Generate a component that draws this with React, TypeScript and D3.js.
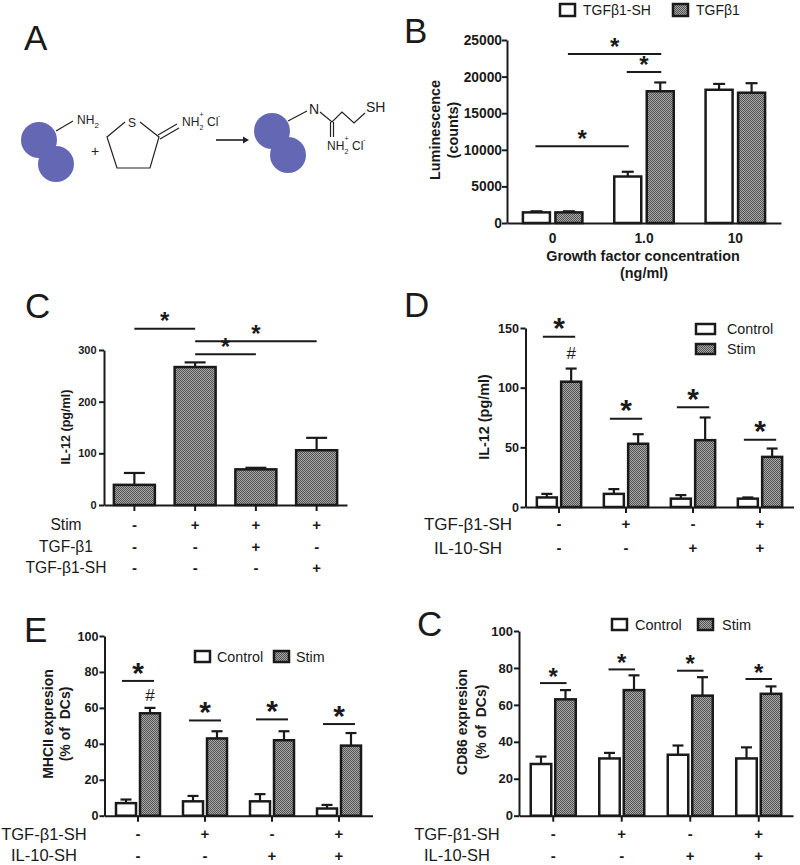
import { useEffect, useRef } from "react";
import * as d3 from "d3";

const SANS = "'Liberation Sans', Arial, sans-serif";
const BLACK = "#1a1a1a";

// Panel B
const growthGroups = ["0", "1.0", "10"];
const growthSeries = ["TGFβ1-SH", "TGFβ1"];
const growthMeans = [[1450, 6350, 18200], [1450, 18000, 17800]];
const growthTops = [[1600, 7000, 19000], [1600, 19200, 19100]];
const growthTicks = [0, 5000, 10000, 15000, 20000, 25000];
// from / to are [group, series]
const growthSig = [
  { from: [0, 1], to: [1, 1], value: 23090 },
  { from: [1, 0], to: [1, 1], value: 20630 },
  { from: [0, 0], to: [1, 0], value: 10480 },
];

// Panel C (top)
const il12Groups = ["a", "b", "c", "d"];
const il12Means = [[39, 267, 69, 106]];
const il12Tops = [[62, 276, 72, 130]];
const il12Ticks = [0, 100, 200, 300];
const il12Sig = [
  { from: [0, 0], to: [1, 0], value: 341 },
  { from: [1, 0], to: [3, 0], value: 317 },
  { from: [1, 0], to: [2, 0], value: 292 },
];
const il12Rows = [
  { label: "Stim", marks: ["-", "+", "+", "+"] },
  { label: "TGF-β1", marks: ["-", "-", "+", "-"] },
  { label: "TGF-β1-SH", marks: ["-", "-", "-", "+"] },
];

// Panels D, E, lower C share these
const stimSeries = ["Control", "Stim"];
const shRows = [
  { label: "TGF-β1-SH", marks: ["-", "+", "-", "+"] },
  { label: "IL-10-SH", marks: ["-", "-", "+", "+"] },
];

const dControl = [8, 11, 7, 7];
const dStim = [105, 53, 56, 42];
const dControlTop = [11, 15, 10, 8];
const dStimTop = [116, 61, 75, 49];
const dTicks = [0, 50, 100, 150];
const dSigLevels = [142.7, 74, 83.5, 56.4];

const eControl = [7, 8, 8, 4];
const eStim = [57, 43, 42, 39];
const eControlTop = [9, 11, 12, 6];
const eStimTop = [60, 47, 47, 46];
const eSigLevels = [75, 53, 53.6, 51];

const fControl = [28, 31, 33, 31];
const fStim = [63, 68, 65, 66];
const fControlTop = [32, 34, 38, 37];
const fStimTop = [68, 76, 75, 70];
const fSigLevels = [71.8, 79.2, 78.5, 74];

const percentTicks = [0, 20, 40, 60, 80, 100];

const pairSig = (levels: number[]) =>
  levels.map((value, i) => ({ from: [i, 0], to: [i, 1], value }));

type Panel = {
  groups: string[];
  series: string[];
  means: number[][];
  tops: number[][];
  ticks: number[];
  domainMax: number;
  xRange: [number, number];
  yRange: [number, number];
  barWidth: number;
  barStep: number;
  capWidth: number;
  fills: string[];
  tickFont: number;
  tickGap: number;
  xTickMarks: boolean;
  sig: { from: number[]; to: number[]; value: number }[];
  sigPad: number;
  starSize: number;
  starGap: number;
  hash?: { group: number; value: number };
  rows?: { label: string; marks: string[] }[];
  rowX?: number;
  rowYs?: number[];
  rowFont?: number;
};

const WHITE = "#fff";
const GREY = "url(#dots)";

const panels: Panel[] = [
  {
    groups: growthGroups, series: growthSeries, means: growthMeans, tops: growthTops, ticks: growthTicks,
    domainMax: 25000, xRange: [507, 781], yRange: [223, 40], barWidth: 27, barStep: 32.5, capWidth: 12,
    fills: [WHITE, GREY], tickFont: 13.8, tickGap: 5, xTickMarks: false, sig: growthSig, sigPad: 1, starSize: 24, starGap: 7,
  },
  {
    groups: il12Groups, series: ["IL-12"], means: il12Means, tops: il12Tops, ticks: il12Ticks,
    domainMax: 300, xRange: [104, 347], yRange: [505, 350], barWidth: 41, barStep: 41, capWidth: 21,
    fills: [GREY], tickFont: 11, tickGap: 7.5, xTickMarks: true, sig: il12Sig, sigPad: 0, starSize: 24, starGap: 7,
    rows: il12Rows, rowX: 66, rowYs: [525, 547, 568], rowFont: 15.6,
  },
  {
    groups: il12Groups, series: stimSeries, means: [dControl, dStim], tops: [dControlTop, dStimTop], ticks: dTicks,
    domainMax: 150, xRange: [525.5, 793.5], yRange: [507, 328], barWidth: 20, barStep: 24.3, capWidth: 11,
    fills: [WHITE, GREY], tickFont: 12.6, tickGap: 6.5, xTickMarks: true, sig: pairSig(dSigLevels), sigPad: 4, starSize: 30, starGap: 8,
    hash: { group: 0, value: 124 }, rows: shRows, rowX: 468, rowYs: [524, 548], rowFont: 17,
  },
  {
    groups: il12Groups, series: stimSeries, means: [eControl, eStim], tops: [eControlTop, eStimTop], ticks: percentTicks,
    domainMax: 100, xRange: [104.5, 372.5], yRange: [815.7, 636], barWidth: 20, barStep: 24, capWidth: 11,
    fills: [WHITE, GREY], tickFont: 12.6, tickGap: 6, xTickMarks: true, sig: pairSig(eSigLevels), sigPad: 4, starSize: 30, starGap: 8,
    hash: { group: 0, value: 64 }, rows: shRows, rowX: 44, rowYs: [834, 855.5], rowFont: 16.5,
  },
  {
    groups: il12Groups, series: stimSeries, means: [fControl, fStim], tops: [fControlTop, fStimTop], ticks: percentTicks,
    domainMax: 100, xRange: [519, 793], yRange: [815.7, 631], barWidth: 20.5, barStep: 24.5, capWidth: 11,
    fills: [WHITE, GREY], tickFont: 13, tickGap: 6, xTickMarks: true, sig: pairSig(fSigLevels), sigPad: 1, starSize: 24, starGap: 6,
    rows: shRows, rowX: 457, rowYs: [834, 855.5], rowFont: 16.5,
  },
];

const panelLetters = [
  { text: "A", x: 24, y: 50 },
  { text: "B", x: 404, y: 43 },
  { text: "C", x: 25, y: 318 },
  { text: "D", x: 404, y: 317 },
  { text: "E", x: 24, y: 642 },
  { text: "C", x: 417, y: 636 },
];

const rotatedTitles = [
  { text: "Luminescence", x: 435, y: 130, size: 14.4 },
  { text: "(counts)", x: 453, y: 130, size: 14.4 },
  { text: "IL-12 (pg/ml)", x: 66, y: 427, size: 12.6 },
  { text: "IL-12 (pg/ml)", x: 484, y: 417, size: 14.4 },
  { text: "MHCII expresion", x: 48, y: 724, size: 14 },
  { text: "(% of  DCs)", x: 65, y: 724, size: 14 },
  { text: "CD86 expresion", x: 462, y: 722, size: 14 },
  { text: "(% of  DCs)", x: 481, y: 722, size: 14 },
];

const legends = [
  { name: "TGFβ1-SH", fill: WHITE, x: 560, y: 4, w: 15, h: 12, textX: 583, size: 14 },
  { name: "TGFβ1", fill: GREY, x: 673, y: 4, w: 15, h: 12, textX: 696, size: 14 },
  { name: "Control", fill: WHITE, x: 696, y: 324, w: 19, h: 10, textX: 727, size: 14.3 },
  { name: "Stim", fill: GREY, x: 696, y: 344, w: 19, h: 10, textX: 727, size: 14.3 },
  { name: "Control", fill: WHITE, x: 195, y: 651, w: 15, h: 11, textX: 217, size: 14.3 },
  { name: "Stim", fill: GREY, x: 274, y: 651, w: 15, h: 11, textX: 296, size: 14.3 },
  { name: "Control", fill: WHITE, x: 612, y: 619, w: 15, h: 11, textX: 635, size: 14.5 },
  { name: "Stim", fill: GREY, x: 698, y: 619, w: 15, h: 11, textX: 722, size: 14.5 },
];

const BarPanel = ({ p }: { p: Panel }) => {
  const axesRef = useRef<SVGGElement>(null);
  const x = d3.scaleBand().domain(p.groups).range(p.xRange);
  const inner = d3
    .scaleBand()
    .domain(p.series)
    .range([(-p.barStep * p.series.length) / 2, (p.barStep * p.series.length) / 2]);
  const y = d3.scaleLinear().domain([0, p.domainMax]).range(p.yRange);
  const centre = (g: number) => x(p.groups[g])! + x.bandwidth() / 2;
  const barCentre = (g: number, s: number) => centre(g) + inner(p.series[s])! + inner.bandwidth() / 2;

  // Render the axes using d3, not React
  useEffect(() => {
    const g = d3.select(axesRef.current);
    g.selectAll("*").remove();
    const yAxis = g
      .append("g")
      .attr("transform", `translate(${p.xRange[0]},0)`)
      .call(d3.axisLeft(y).tickValues(p.ticks).tickFormat(d3.format("d")).tickSize(5).tickSizeOuter(0));
    const xAxis = g
      .append("g")
      .attr("transform", `translate(0,${p.yRange[0]})`)
      .call(d3.axisBottom(x).tickSize(p.xTickMarks ? 6 : 0).tickSizeOuter(0));
    yAxis.selectAll("text").attr("font-size", p.tickFont).attr("font-weight", "bold").attr("x", -p.tickGap);
    if (p.xTickMarks) xAxis.selectAll("text").remove();
    else
      xAxis.selectAll("text").attr("font-size", p.tickFont).attr("font-weight", "bold").attr("dy", "1.2em");
    g.selectAll("path,line").attr("stroke", BLACK).attr("stroke-width", 2);
    g.selectAll("text").attr("font-family", SANS).attr("fill", BLACK);
  }, []);

  return (
    <g>
      {p.series.map((name, s) =>
        p.groups.map((group, g) => {
          const cx = barCentre(g, s);
          return (
            <g key={`${name}-${group}`} stroke={BLACK} strokeWidth={2.2}>
              <line x1={cx} x2={cx} y1={y(p.means[s][g])} y2={y(p.tops[s][g])} />
              <line
                x1={cx - p.capWidth / 2}
                x2={cx + p.capWidth / 2}
                y1={y(p.tops[s][g])}
                y2={y(p.tops[s][g])}
              />
              <rect
                x={cx - p.barWidth / 2}
                y={y(p.means[s][g])}
                width={p.barWidth}
                height={y(0) - y(p.means[s][g])}
                fill={p.fills[s]}
                strokeWidth={2.5}
              />
            </g>
          );
        })
      )}
      <g ref={axesRef} />
      {p.sig.map((d, i) => {
        const x1 = barCentre(d.from[0], d.from[1]) - p.sigPad;
        const x2 = barCentre(d.to[0], d.to[1]) + p.sigPad;
        return (
          <g key={i}>
            <line x1={x1} x2={x2} y1={y(d.value)} y2={y(d.value)} stroke={BLACK} strokeWidth={2} />
            <text
              x={(x1 + x2) / 2}
              y={y(d.value) + p.starSize * 0.62 - p.starGap - p.starSize * 0.3}
              textAnchor="middle"
              fontFamily={SANS}
              fontSize={p.starSize}
              fontWeight="bold"
              fill={BLACK}
            >
              *
            </text>
          </g>
        );
      })}
      {p.hash && (
        <text
          x={barCentre(p.hash.group, 1)}
          y={y(p.hash.value)}
          textAnchor="middle"
          fontFamily={SANS}
          fontSize={17}
          fill={BLACK}
        >
          #
        </text>
      )}
      {p.rows &&
        p.rows.map((row, r) => (
          <g key={row.label} fontFamily={SANS} fill={BLACK}>
            <text x={p.rowX} y={p.rowYs![r]} dy="0.35em" textAnchor="middle" fontSize={p.rowFont}>
              {row.label}
            </text>
            {row.marks.map((m, g) => (
              <text key={g} x={centre(g)} y={p.rowYs![r]} dy="0.35em" textAnchor="middle" fontSize={15} fontWeight="bold">
                {m}
              </text>
            ))}
          </g>
        ))}
    </g>
  );
};

// Panel A reaction scheme
const Scheme = () => {
  const bead = "#6468b4";
  const ink = "#222";
  const ring = d3.line()([[125, 122], [107, 137], [117, 168], [150, 168], [159, 137], [140, 122]]) as string;
  const sub = (t: string, x: number, y: number, size = 12) => (
    <text x={x} y={y} fontFamily={SANS} fontSize={size} fill={ink}>{t}</text>
  );
  return (
    <g>
      <circle cx={39} cy={140} r={18} fill={bead} />
      <circle cx={56} cy={164} r={18} fill={bead} />
      <circle cx={272} cy={131} r={18} fill={bead} />
      <circle cx={288} cy={155} r={18} fill={bead} />
      <g stroke={ink} strokeWidth={1.2} fill="none">
        <line x1={56} y1={131} x2={73} y2={121} />
        <path d={ring} />
        <line x1={158} y1={135} x2={177} y2={124} />
        <line x1={160} y1={139} x2={179} y2={128} />
        <line x1={288} y1={121} x2={307} y2={111} />
        <polyline points="320,112 332,122 342,112 354,123 365,113" />
        <line x1={330.5} y1={122} x2={330.5} y2={137} />
        <line x1={333.5} y1={122} x2={333.5} y2={137} />
      </g>
      <line x1={216} y1={140} x2={245} y2={140} stroke={ink} strokeWidth={1.6} />
      <path d="M243,136.5 L249,140 L243,143.5 Z" fill={ink} />
      {sub("NH", 77, 124)}{sub("2", 94.5, 128, 8)}
      {sub("+", 91, 156, 14)}
      {sub("S", 128, 127, 12)}
      {sub("NH", 182, 126)}{sub("+", 199.5, 117, 7)}{sub("2", 199.5, 130, 7)}{sub("Cl", 207, 126)}{sub("-", 218, 118, 7)}
      {sub("N", 309, 114, 14)}
      {sub("SH", 366, 112, 14)}
      {sub("NH", 327, 150)}{sub("+", 344.5, 141, 7)}{sub("2", 344.5, 154, 7)}{sub("Cl", 352, 150)}{sub("-", 363, 142, 7)}
    </g>
  );
};

export default function App() {
  return (
    <svg
      width={800}
      height={865}
      style={{ position: "absolute", left: 0, top: 0, background: "#fff" }}
    >
      <defs>
        <pattern id="dots" width={2} height={2} patternUnits="userSpaceOnUse">
          <rect width={2} height={2} fill="#a6a6a6" />
          <rect width={1} height={1} fill="#555" />
          <rect x={1} y={1} width={1} height={1} fill="#555" />
        </pattern>
      </defs>
      <Scheme />
      {panels.map((p, i) => (
        <BarPanel key={i} p={p} />
      ))}
      {panelLetters.map((d, i) => (
        <text key={i} x={d.x} y={d.y} fontFamily={SANS} fontSize={35} fill={BLACK}>
          {d.text}
        </text>
      ))}
      {rotatedTitles.map((d, i) => (
        <text
          key={i}
          transform={`translate(${d.x},${d.y}) rotate(-90)`}
          dy="0.35em"
          textAnchor="middle"
          fontFamily={SANS}
          fontWeight="bold"
          fontSize={d.size}
          fill={BLACK}
          style={{ whiteSpace: "pre" }}
        >
          {d.text}
        </text>
      ))}
      <g fontFamily={SANS} fontWeight="bold" fontSize={14.4} fill={BLACK} textAnchor="middle">
        <text x={643} y={256} dy="0.35em">Growth factor concentration</text>
        <text x={644} y={273} dy="0.35em">(ng/ml)</text>
      </g>
      {legends.map((d, i) => (
        <g key={i}>
          <rect x={d.x} y={d.y} width={d.w} height={d.h} fill={d.fill} stroke={BLACK} strokeWidth={2.5} />
          <text x={d.textX} y={d.y + d.h / 2} dy="0.35em" fontFamily={SANS} fontSize={d.size} fill={BLACK}>
            {d.name}
          </text>
        </g>
      ))}
    </svg>
  );
}
